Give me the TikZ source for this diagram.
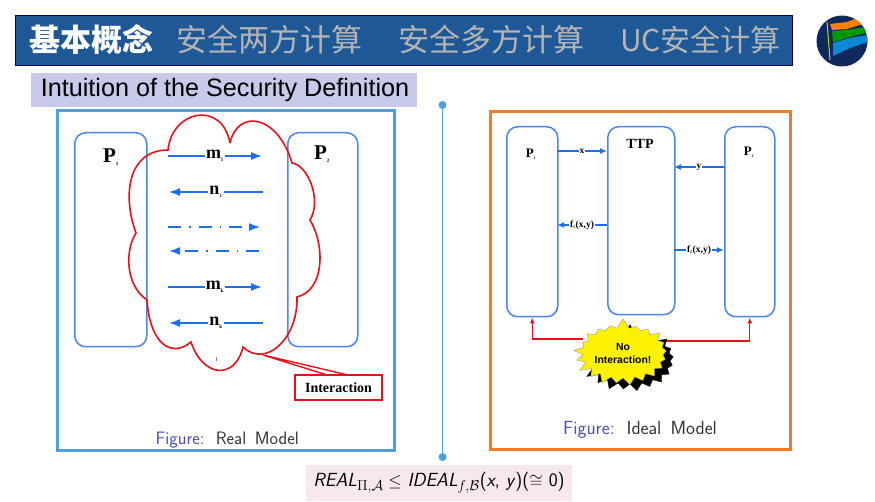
\documentclass[tikz,border=0pt]{standalone}
\usepackage{amsmath}
\usepackage{amssymb}
\usepackage{fontspec}
\usepackage{tikz}
\setmainfont{Liberation Serif}
\newfontfamily\cjkfont{Noto Sans CJK SC}
\newfontfamily\arialfont{Liberation Sans}
\usetikzlibrary{arrows,arrows.meta,calc,positioning,shadows,shapes.symbols,shapes.geometric}
\definecolor{bannerblue}{HTML}{1F5897}
\definecolor{tabgrey}{HTML}{B4B4B4}
\definecolor{titlebg}{HTML}{C8CAEA}
\definecolor{realblue}{HTML}{4FA0DA}
\definecolor{idealorange}{HTML}{F37B26}
\definecolor{boxblue}{HTML}{4A86E8}
\definecolor{msgblue}{HTML}{1C6FF0}
\definecolor{figblue}{HTML}{4B4FB0}
\definecolor{formbg}{HTML}{F6E8EE}
\definecolor{cloudred}{HTML}{E8101C}
\definecolor{logonavy}{HTML}{0E2A5C}

\begin{document}
\begin{tikzpicture}[x=1pt,y=-1pt,
  tab/.style={font=\cjkfont\fontsize{31}{31}\selectfont,text=tabgrey,anchor=west,inner sep=0pt},
  party/.style={draw=boxblue,line width=1.5pt,rounded corners=11pt,anchor=north west,inner sep=0pt},
  bigp/.style={font=\bfseries\fontsize{21}{21}\selectfont,inner sep=0pt},
  smallp/.style={font=\bfseries\fontsize{13}{13}\selectfont,inner sep=0pt},
  msg/.style={-{Latex[length=11pt,width=8pt]},draw=msgblue,line width=1.4pt},
  smallmsg/.style={-{Latex[length=7pt,width=6pt]},draw=msgblue,line width=1.4pt},
  msgdash/.style={-{Latex[length=11pt,width=8pt]},draw=msgblue,line width=1.5pt,dash pattern=on 13pt off 8pt on 1.5pt off 8pt},
  lbl/.style={fill=white,inner sep=1pt,font=\bfseries\fontsize{18}{18}\selectfont},
  smalllbl/.style={fill=white,inner sep=1pt,font=\bfseries\fontsize{9.5}{10}\selectfont},
  noint/.style={-{Latex[length=6pt,width=5pt]},draw=cloudred,line width=1.2pt},
  figcap/.style={font=\sffamily\fontsize{18}{18}\selectfont,anchor=west,inner sep=0pt}]
  \useasboundingbox (0,0) rectangle (875,502);

  % top banner
  \node[draw=black!70!blue,fill=bannerblue,minimum width=777pt,minimum height=50pt,inner sep=0pt] (banner) at (403.5,40) {};
  \node[tab,text=white,font=\cjkfont\bfseries\fontsize{31}{31}\selectfont] (tab1) at (29,39.5) {基本概念};
  \node[tab] (tab2) at (176,39.5) {安全两方计算};
  \node[tab] (tab3) at (398,39.5) {安全多方计算};
  \node[tab,font=\cjkfont\fontsize{30}{30}\selectfont] (tab4) at (620,39.5) {UC安全计算};

  % logo
  \begin{scope}
    \clip (842,41) ellipse (25.5pt and 25.5pt);
    \fill[logonavy] (816,15) rectangle (868,67);
    \fill[cyan!70!blue] (833,43) -- (850,38) -- (868,35) -- (868,42) -- (850,48) -- (833,56) -- cycle;
    \fill[green!60!black] (832,31) -- (847,30) -- (866,27) -- (866,33) -- (850,37) -- (833,42) -- cycle;
    \fill[orange] (830,24) -- (847,22) -- (860,17) -- (863,24) -- (847,29) -- (832,30) -- cycle;
    \draw[yellow!70!green,line width=1pt] (827,22) -- (830,60);
  \end{scope}

  % title
  \node[fill=titlebg,minimum width=386pt,minimum height=34pt,inner sep=0pt] (title) at (224,90)
    {\hspace{2pt}\arialfont\fontsize{25.2}{26}\selectfont Intuition of the Security Definition};

  % divider
  \coordinate (divtop) at (442.5,105);
  \coordinate (divbot) at (442.5,457);
  \draw[realblue,line width=1.6pt] (divtop) -- (divbot);
  \fill[realblue] (divtop) circle (4pt);
  \fill[realblue] (divbot) circle (4pt);

  % real model
  \node[draw=realblue,line width=3pt,minimum width=337pt,minimum height=339pt,inner sep=0pt] (realbox) at (225.5,280.5) {};
  \node[party,minimum width=72pt,minimum height=214pt] (p1r) at (74,132) {};
  \node[party,minimum width=70pt,minimum height=214pt] (p2r) at (287,132) {};
  \node[bigp] (p1rl) at (111,157) {P\textsubscript{\fontsize{5}{5}\selectfont 1}};
  \node[bigp] (p2rl) at (322,154) {P\textsubscript{\fontsize{5}{5}\selectfont 2}};

  \coordinate (m1s) at (168,156);
  \coordinate (m1e) at (262,156);
  \coordinate (n1s) at (263,192);
  \coordinate (n1e) at (169,192);
  \coordinate (d1s) at (168,227);
  \coordinate (d1e) at (260,227);
  \coordinate (d2s) at (259,251);
  \coordinate (d2e) at (169,251);
  \coordinate (mks) at (168,287);
  \coordinate (mke) at (262,287);
  \coordinate (nks) at (263,323);
  \coordinate (nke) at (169,323);
  \draw[msg] (m1s) -- node[lbl] (m1l) {m\textsubscript{\fontsize{5}{5}\selectfont 1}} (m1e);
  \draw[msg] (n1s) -- node[lbl] (n1l) {n\textsubscript{\fontsize{5}{5}\selectfont 1}} (n1e);
  \draw[msgdash] (d1s) -- (d1e);
  \draw[msgdash] (d2s) -- (d2e);
  \draw[msg] (mks) -- node[lbl] (mkl) {m\textsubscript{\fontsize{5}{5}\selectfont k}} (mke);
  \draw[msg] (nks) -- node[lbl] (nkl) {n\textsubscript{\fontsize{5}{5}\selectfont k}} (nke);

  % cloud
  \draw[cloudred,line width=1.6pt] (230,143)
    .. controls (238,108) and (278,115) .. (292,163)
    .. controls (308,165) and (322,200) .. (310,220)
    .. controls (325,245) and (325,290) .. (297,297)
    .. controls (298,340) and (265,368) .. (243,347)
    .. controls (235,380) and (203,378) .. (191,342)
    .. controls (172,358) and (150,345) .. (147,300)
    .. controls (125,285) and (125,250) .. (136,233)
    .. controls (122,195) and (128,150) .. (168,150)
    .. controls (172,110) and (222,100) .. (230,143);
  \draw[black!45,line width=.5pt] (216,357) -- (216,361);

  % interaction callout
  \node[draw=cloudred,line width=1.6pt,fill=white,minimum width=87pt,minimum height=25pt,inner sep=0pt,font=\bfseries\fontsize{14}{14}\selectfont] (interbox) at (338.5,387.5) {Interaction};
  \coordinate (ctip) at (263,355);
  \coordinate (cleft) at (327,375);
  \coordinate (cright) at (348,375);
  \draw[cloudred,line width=1.4pt] (cleft) -- (ctip) -- (cright);

  \node[figcap] (realcap) at (155.5,440) {\textcolor{figblue}{Figure:}\ \ \textcolor{black!80}{Real\ \,Model}};

  % ideal model
  \node[draw=idealorange,line width=3pt,minimum width=300pt,minimum height=337pt,inner sep=0pt] (idealbox) at (640.5,280.5) {};
  \node[party,minimum width=51pt,minimum height=190pt] (p1i) at (506,126) {};
  \node[party,minimum width=67pt,minimum height=188pt] (ttp) at (607,126) {};
  \node[party,minimum width=50pt,minimum height=190pt] (p2i) at (724,126) {};
  \node[smallp] (p1il) at (531,154) {P\textsubscript{\fontsize{4}{4}\selectfont 1}};
  \node[smallp,font=\bfseries\fontsize{14}{14}\selectfont] (ttpl) at (640,144) {TTP};
  \node[smallp] (p2il) at (749,152) {P\textsubscript{\fontsize{4}{4}\selectfont 2}};

  \coordinate (xa) at (557,151);
  \coordinate (xb) at (607,151);
  \coordinate (ya) at (724,167);
  \coordinate (yb) at (674,167);
  \coordinate (fa) at (607,225);
  \coordinate (fb) at (557,225);
  \coordinate (ga) at (674,250);
  \coordinate (gb) at (724,250);
  \draw[smallmsg] (xa) -- node[smalllbl] (xl) {x} (xb);
  \draw[smallmsg] (ya) -- node[smalllbl] (yl) {y} (yb);
  \draw[smallmsg] (fa) -- node[smalllbl] (fl) {f\textsubscript{\fontsize{4}{4}\selectfont 1}(x,y)} (fb);
  \draw[smallmsg] (ga) -- node[smalllbl] (gl) {f\textsubscript{\fontsize{4}{4}\selectfont 2}(x,y)} (gb);

  % no interaction
  \coordinate (bl) at (583,339);
  \coordinate (br) at (660,341);
  \draw[noint] (bl) -| (p1i.south);
  \draw[noint] (br) -| (p2i.south);
  \node[starburst,starburst points=21,starburst point height=10pt,random starburst=7,
    draw=black!40,line width=.4pt,fill=yellow,minimum width=80pt,minimum height=70pt,inner sep=0pt,
    copy shadow={fill=black,draw=black,shadow xshift=7pt,shadow yshift=-6pt},
    align=center,font=\arialfont\bfseries\fontsize{10.4}{13}\selectfont] (burst) at (623,353) {No\\Interaction!};

  \node[figcap,font=\sffamily\fontsize{19}{19}\selectfont] (idealcap) at (563,430) {\textcolor{figblue}{Figure:}\ \ \textcolor{black!80}{Ideal\ \,Model}};

  % formula
  \node[fill=formbg,minimum width=266pt,minimum height=36pt,inner sep=0pt,font=\sffamily\fontsize{19}{19}\selectfont] (formula) at (439,483)
    {\textit{REAL}$_{\Pi,\mathcal{A}}\leq$ \textit{IDEAL}$_{f,\mathcal{B}}$(\textit{x}, \textit{y})($\cong$ 0)};
\end{tikzpicture}
\end{document}
